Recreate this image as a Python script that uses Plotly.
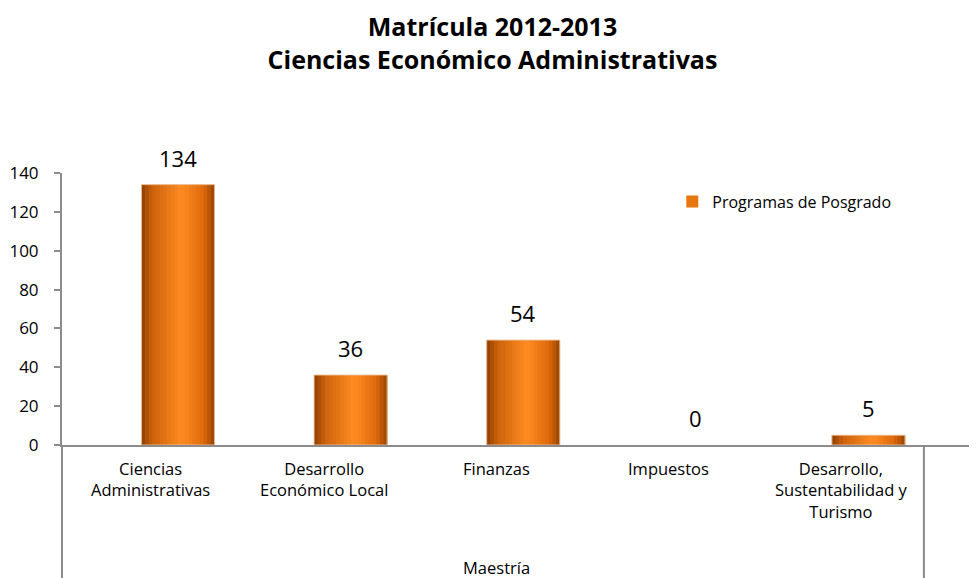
import plotly.graph_objects as go

categorias = ["Ciencias<br>Administrativas", "Desarrollo<br>Económico Local", "Finanzas",
              "Impuestos", "Desarrollo,<br>Sustentabilidad y<br>Turismo"]
grupo = "Maestría"
matricula = [134, 36, 54, 0, 5]
serie = "Programas de Posgrado"

FONT = "'Open Sans', Lato, sans-serif"
x = list(range(len(categorias)))

# horizontal gradient stops for the bars (dark edge -> bright -> dark edge)
stops = [(0.0, (140, 62, 0)), (0.15, (205, 98, 12)), (0.55, (255, 140, 34)),
         (0.85, (222, 106, 12)), (1.0, (150, 66, 0))]


def grad(t):
    for (t0, c0), (t1, c1) in zip(stops, stops[1:]):
        if t <= t1:
            f = (t - t0) / (t1 - t0)
            return "rgb(%d,%d,%d)" % tuple(round(a + (b - a) * f) for a, b in zip(c0, c1))
    return "rgb(%d,%d,%d)" % stops[-1][1]


bw = 0.423
n = 20
fig = go.Figure()
fig.add_trace(go.Bar(x=x, y=matricula, width=bw, name=serie, marker_color="#e8760f",
                     marker_line_width=0, showlegend=True, hoverinfo="skip"))
for i in range(n):
    fig.add_trace(go.Bar(x=x, y=matricula, width=bw / n + 0.002, offset=-bw / 2 + i * bw / n,
                         marker_color=grad((i + 0.5) / n), marker_line_width=0,
                         showlegend=False, hoverinfo="skip"))
fig.add_trace(go.Bar(x=x, y=matricula, width=bw, marker_color="rgba(0,0,0,0)",
                     marker_line=dict(color="rgba(235,190,150,0.9)",
                                      width=[1 if v else 0 for v in matricula]),
                     showlegend=False, hovertemplate="%{y}<extra></extra>"))

# data labels
for xi, v in zip(x, matricula):
    fig.add_annotation(x=xi, y=v, text=str(v), showarrow=False, yanchor="bottom", yshift=10,
                       font=dict(size=22, color="black", family=FONT))

# category labels below axis (sit a little left of the bars, as in the source)
for xi, c in zip(x, categorias):
    fig.add_annotation(x=xi, xref="x", xshift=-27, y=0, yref="paper", yshift=-10, text=c,
                       showarrow=False, yanchor="top", align="center",
                       font=dict(size=16.5, color="black", family=FONT))
fig.add_annotation(x=(len(x) - 1) / 2, xref="x", xshift=-27, y=0, yref="paper", yshift=-109,
                   text=grupo, showarrow=False, yanchor="top",
                   font=dict(size=16.5, color="black", family=FONT))

# group divider lines
for xv in [0, 0.942]:
    fig.add_shape(type="line", xref="paper", yref="paper", x0=xv, x1=xv, y0=0, y1=-0.5,
                  line=dict(color="#8c8c8c", width=2))

# page body adds an 8px offset, so the figure is 8px smaller than the window
fig.update_layout(
    width=969, height=570,
    margin=dict(l=54, r=0, t=165, b=133, autoexpand=False),
    paper_bgcolor="white", plot_bgcolor="white",
    barmode="overlay",
    title=dict(text="<b>Matrícula 2012-2013<br>Ciencias Económico Administrativas</b>",
               x=0.5, xanchor="center", y=1 - 28 / 570, yanchor="middle",
               font=dict(size=25, color="black", family=FONT)),
    legend=dict(x=0.667, y=0.895, xanchor="left", yanchor="middle", bgcolor="rgba(0,0,0,0)",
                font=dict(size=16, color="black", family=FONT), itemwidth=30),
    font=dict(family=FONT),
)
fig.update_xaxes(range=[-0.672, 4.629], showticklabels=False, showgrid=False, zeroline=False,
                 showline=True, linecolor="#8c8c8c", linewidth=2, ticks="")
fig.update_yaxes(range=[0, 140], dtick=20, showgrid=False, zeroline=False, showline=True,
                 linecolor="#8c8c8c", linewidth=2, ticks="outside", ticklen=6, tickcolor="#8c8c8c",
                 tickwidth=2, ticklabelstandoff=12, automargin=False,
                 tickfont=dict(size=17, color="black", family=FONT))

fig.write_html("out.html")
